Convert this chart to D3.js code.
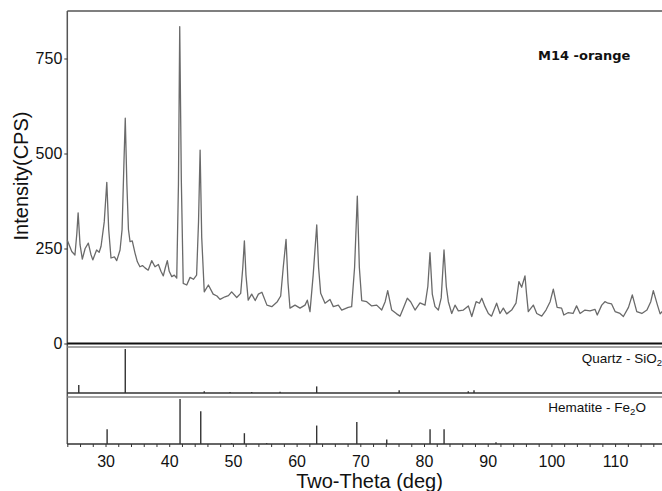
<!DOCTYPE html>
<html lang="en">
<head>
  <meta charset="UTF-8">
  <style>
    html, body { margin: 0; padding: 0; background: #fff; }
    svg { display: block; font-family: "Liberation Sans", Arial, sans-serif; }
    .axis path { display: none; }
    .axis line { stroke: #333; }
    .axis text { font-size: 16px; fill: #111; font-family: "Liberation Sans", Arial, sans-serif; }
  </style>
  <script src="https://d3js.org/d3.v7.min.js"></script>
</head>
<body>
  <svg id="xrd" width="662" height="491"></svg>

  <script>
    const twoTheta = [24.0, 24.7, 25.2, 25.5, 25.7, 26.0, 26.36, 26.8, 27.3, 27.7, 28.0, 28.6, 29.0, 29.3, 29.8, 30.2, 30.5, 30.86,
      31.4, 31.76, 32.28, 32.6, 32.9, 33.1, 33.35, 33.6, 33.85, 34.2, 34.63, 35.0, 35.4, 35.8, 36.2, 36.7, 37.25, 37.77,
      38.3, 38.7, 39.07, 39.4, 39.7, 40.0, 40.4, 40.8, 41.18, 41.45, 41.65, 41.9, 42.2, 42.75, 43.27, 43.8, 44.3, 44.6,
      44.85, 45.1, 45.5, 46.15, 46.9, 47.5, 47.97, 48.76, 49.3, 49.8, 50.6, 51.22, 51.55, 51.8, 52.05, 52.4, 52.95, 53.5,
      54.0, 54.55, 55.34, 56.1, 56.97, 57.5, 57.9, 58.34, 58.65, 58.96, 59.75, 60.53, 61.32, 61.68, 62.1, 62.6, 63.16,
      63.45, 63.78, 64.46, 65.24, 65.76, 66.55, 67.08, 68.1, 68.64, 69.1, 69.53, 69.85, 70.22, 71.0, 71.79, 72.57, 73.36,
      73.9, 74.3, 74.93, 75.7, 76.23, 76.75, 77.38, 77.9, 78.59, 79.37, 80.16, 80.6, 80.94, 81.3, 81.73, 82.25, 82.7,
      83.14, 83.5, 83.82, 84.35, 84.87, 85.39, 86.18, 86.96, 87.5, 88.18, 88.7, 89.07, 89.58, 90.1, 90.6, 91.4, 91.93,
      92.45, 92.98, 93.76, 94.44, 94.9, 95.33, 95.85, 96.1, 96.37, 97.16, 97.7, 98.48, 99.15, 99.8, 100.3, 100.9, 101.6,
      101.95, 102.6, 103.4, 103.95, 104.5, 105.27, 106.06, 106.84, 107.2, 107.9, 108.4, 108.9, 109.45, 110.0, 110.77,
      111.3, 112.1, 112.7, 113.4, 114.2, 115.0, 115.6, 116.0, 116.65, 117.07, 117.6, 118.4, 119.2, 120.0];
    const intensity = [272, 242, 233, 290, 344, 260, 222, 250, 264, 235, 220, 246, 240, 256, 320, 424, 300, 225,
      228, 218, 246, 300, 480, 593, 420, 300, 268, 270, 238, 215, 202, 205, 199, 193, 218, 202,
      208, 190, 178, 200, 218, 190, 176, 180, 172, 420, 834, 430, 158, 154, 174, 169, 180, 320,
      509, 280, 136, 154, 130, 125, 116, 123, 126, 136, 121, 132, 200, 270, 180, 114, 130, 113,
      130, 135, 101, 97, 110, 125, 200, 274, 160, 93, 101, 93, 101, 114, 84, 180, 312,
      200, 132, 106, 116, 97, 101, 88, 95, 97, 200, 388, 200, 113, 110, 99, 101, 88,
      110, 139, 88, 78, 72, 93, 119, 110, 88, 107, 101, 150, 239, 130, 97, 88, 120,
      246, 150, 110, 79, 101, 86, 88, 99, 71, 110, 106, 119, 97, 79, 72, 106, 79,
      93, 78, 88, 106, 163, 148, 178, 130, 84, 101, 79, 72, 88, 110, 143, 95, 93,
      75, 81, 79, 99, 79, 88, 86, 90, 75, 101, 110, 106, 104, 84, 79,
      71, 95, 128, 84, 79, 88, 110, 139, 101, 78, 88, 82, 90, 85];

    // reference stick patterns (relative intensity, %)
    const quartzPos = [25.8, 33.1, 45.5, 49.55, 52.95, 57.4, 63.15, 76.1, 86.95, 87.85];
    const quartzRel = [18, 100, 4, 2, 2, 3, 15, 6, 4, 6];
    const hematitePos = [30.25, 41.7, 44.95, 49.8, 51.8, 55.3, 63.15, 69.45, 74.15, 80.95, 83.15, 91.3];
    const hematiteRel = [33, 100, 73, 2, 24, 2, 41, 49, 10, 33, 33, 4];

    const yTicks = [0, 250, 500, 750];
    const xTicks = d3.range(24, 119, 2);
    const xLabels = [30, 40, 50, 60, 70, 80, 90, 100, 110];

    const svg = d3.select('#xrd');

    const x = d3.scaleLinear().domain([24, 120]).range([67.3, 678.8]);
    const y = d3.scaleLinear().domain([0, 875]).range([343.5, 11]);
    const qy = d3.scaleLinear().domain([0, 100]).range([393, 349]);
    const hy = d3.scaleLinear().domain([0, 100]).range([444, 399]);

    const left = x(24), right = 700;

    // main frame
    svg.append('line').attr('x1', left).attr('x2', right).attr('y1', y(875)).attr('y2', y(875))
      .attr('stroke', '#555').attr('stroke-width', 1.5);
    svg.append('line').attr('x1', left).attr('x2', left).attr('y1', y(875)).attr('y2', 444)
      .attr('stroke', '#555').attr('stroke-width', 1.5);

    // pattern
    const pts = twoTheta.map((t, i) => [t, intensity[i]]);
    svg.append('path')
      .datum(pts)
      .attr('fill', 'none')
      .attr('stroke', '#6a6a6a')
      .attr('stroke-width', 1.3)
      .attr('stroke-linejoin', 'round')
      .attr('d', d3.line().x(d => x(d[0])).y(d => y(d[1])));

    // zero line of main plot
    svg.append('line').attr('x1', left).attr('x2', right).attr('y1', y(0)).attr('y2', y(0))
      .attr('stroke', '#111').attr('stroke-width', 2.2);

    // stick panels
    function panel(scale, pos, rel, topY, label, sub, tail, labelX, labelY) {
      svg.append('line').attr('x1', left).attr('x2', right).attr('y1', topY).attr('y2', topY)
        .attr('stroke', '#888').attr('stroke-width', 1.5);
      svg.append('line').attr('x1', left).attr('x2', right).attr('y1', scale(0)).attr('y2', scale(0))
        .attr('stroke', '#333').attr('stroke-width', 1.5);
      svg.selectAll(null)
        .data(pos.map((p, i) => [p, rel[i]]))
        .enter()
        .append('line')
        .attr('x1', d => x(d[0])).attr('x2', d => x(d[0]))
        .attr('y1', scale(0)).attr('y2', d => scale(d[1]))
        .attr('stroke', '#333')
        .attr('stroke-width', 1.4);
      const t = svg.append('text')
        .attr('x', labelX).attr('y', labelY)
        .attr('font-size', '13.5px')
        .attr('fill', '#111')
        .text(label);
      t.append('tspan').attr('font-size', '9.5px').attr('dy', 3).text(sub);
      t.append('tspan').attr('dy', -3).text(tail);
    }

    panel(qy, quartzPos, quartzRel, 347, 'Quartz - SiO', '2', '', 581.7, 363);
    panel(hy, hematitePos, hematiteRel, 397, 'Hematite - Fe', '2', 'O', 548.3, 411.5);

    // Y axis
    svg.append('g')
      .attr('class', 'axis')
      .attr('transform', `translate(${left}, 0)`)
      .call(d3.axisLeft(y).tickValues(yTicks).tickSize(3).tickPadding(2).tickFormat(d3.format('d')));

    // X axis below the last panel
    svg.append('g')
      .attr('class', 'axis')
      .attr('transform', 'translate(0, 444)')
      .call(d3.axisBottom(x).tickValues(xTicks).tickSize(3).tickPadding(9)
        .tickFormat(d => xLabels.includes(d) ? d : ''));

    // axis titles
    svg.append('text')
      .attr('x', 369.5).attr('y', 488)
      .attr('text-anchor', 'middle')
      .attr('font-size', '20px')
      .attr('fill', '#111')
      .text('Two-Theta (deg)');

    svg.append('text')
      .attr('transform', 'translate(28, 176) rotate(-90)')
      .attr('text-anchor', 'middle')
      .attr('font-size', '20px')
      .attr('fill', '#111')
      .text('Intensity(CPS)');

    // sample name
    svg.append('text')
      .attr('x', 538).attr('y', 60)
      .attr('font-family', '"DejaVu Sans", Verdana, sans-serif')
      .attr('font-weight', 'bold')
      .attr('font-size', '13px')
      .attr('fill', '#111')
      .text('M14 -orange');
  </script>
</body>
</html>
